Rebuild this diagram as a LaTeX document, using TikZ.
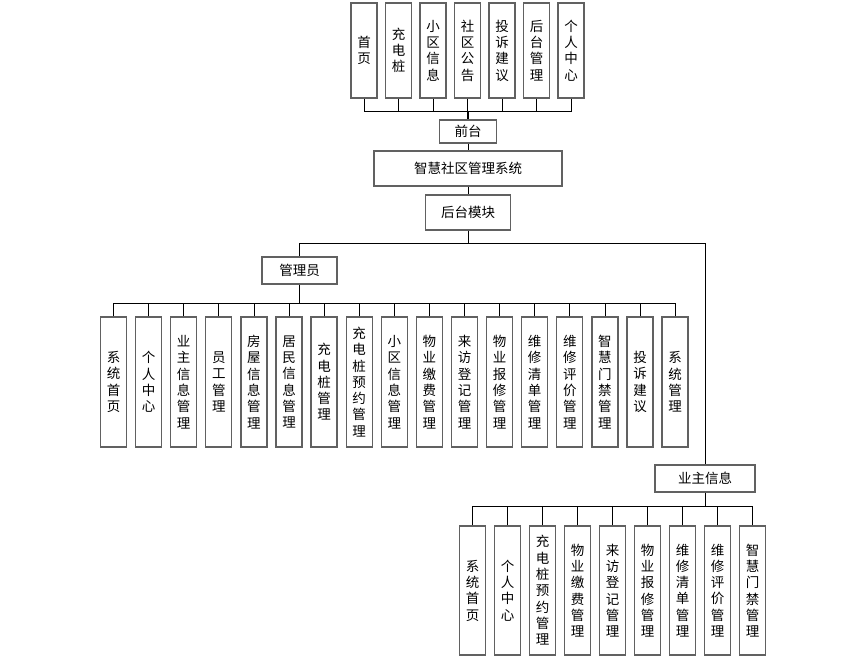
\documentclass[tikz,border=0pt]{standalone}
\usepackage{fontspec}
\newfontfamily\cjk{Noto Sans CJK SC}
\tikzset{
  box/.style={draw=black!62, line width=1.3pt, fill=white, inner sep=0pt,
    align=center, font=\cjk\fontsize{13.5}{16.3}\selectfont},
  vbox/.style={box, minimum width=26pt},
  link/.style={draw=black, line width=0.8pt}
}
\begin{document}
\begin{tikzpicture}[x=1pt, y=-1pt]
    \useasboundingbox (0,0) rectangle (861,660);
    % front end
    \coordinate (topbus) at (468,111);
    \foreach \lab [count=\i from 0] in {首\\页, 充\\电\\桩, 小\\区\\信\\息, 社\\区\\公\\告,
        投\\诉\\建\\议, 后\\台\\管\\理, 个\\人\\中\\心}{
        \pgfmathsetmacro{\xx}{364+34.5*\i}
        \node[vbox, minimum height=95pt] (t\i) at (\xx,50.5) {\lab};
        \draw[link] (t\i.south) |- (topbus);
    }
    \node[box, minimum width=57pt, minimum height=23pt] (front) at (468,131.5) {前台};
    \node[box, minimum width=188pt, minimum height=35pt] (sys) at (468,168.5) {智慧社区管理系统};
    \node[box, minimum width=85pt, minimum height=35pt] (back) at (468,212.5) {后台模块};
    \draw[link, line width=1.6pt] (topbus) -- (front.north);
    \draw[link] (front) -- (sys);
    \draw[link] (sys) -- (back);
    % back end
    \coordinate (split) at (468,243);
    \node[box, minimum width=75pt, minimum height=27pt] (admin) at (299.5,270.5) {管理员};
    \node[box, minimum width=100pt, minimum height=27pt] (owner) at (705,478.5) {业主信息};
    \draw[link] (back.south) -- (split);
    \draw[link] (split) -| (admin.north);
    \draw[link] (split) -| (owner.north);
    % admin modules
    \coordinate (adminbus) at (299.5,303);
    \draw[link] (admin) -- (adminbus);
    \foreach \lab [count=\i from 0] in {系\\统\\首\\页, 个\\人\\中\\心, 业\\主\\信\\息\\管\\理,
        员\\工\\管\\理, 房\\屋\\信\\息\\管\\理, 居\\民\\信\\息\\管\\理, 充\\电\\桩\\管\\理,
        充\\电\\桩\\预\\约\\管\\理, 小\\区\\信\\息\\管\\理, 物\\业\\缴\\费\\管\\理,
        来\\访\\登\\记\\管\\理, 物\\业\\报\\修\\管\\理, 维\\修\\清\\单\\管\\理,
        维\\修\\评\\价\\管\\理, 智\\慧\\门\\禁\\管\\理, 投\\诉\\建\\议, 系\\统\\管\\理}{
        \pgfmathsetmacro{\xx}{113.5+35.1*\i}
        \node[vbox, minimum height=130pt] (a\i) at (\xx,382) {\lab};
        \draw[link] (a\i.north) |- (adminbus);
    }
    % owner modules
    \coordinate (ownerbus) at (705,506);
    \draw[link] (owner) -- (ownerbus);
    \foreach \lab [count=\i from 0] in {系\\统\\首\\页, 个\\人\\中\\心,
        充\\电\\桩\\预\\约\\管\\理, 物\\业\\缴\\费\\管\\理, 来\\访\\登\\记\\管\\理,
        物\\业\\报\\修\\管\\理, 维\\修\\清\\单\\管\\理, 维\\修\\评\\价\\管\\理,
        智\\慧\\门\\禁\\管\\理}{
        \pgfmathsetmacro{\xx}{472.5+35*\i}
        \node[vbox, minimum height=129pt] (o\i) at (\xx,590.5) {\lab};
        \draw[link] (o\i.north) |- (ownerbus);
    }
\end{tikzpicture}
\end{document}
